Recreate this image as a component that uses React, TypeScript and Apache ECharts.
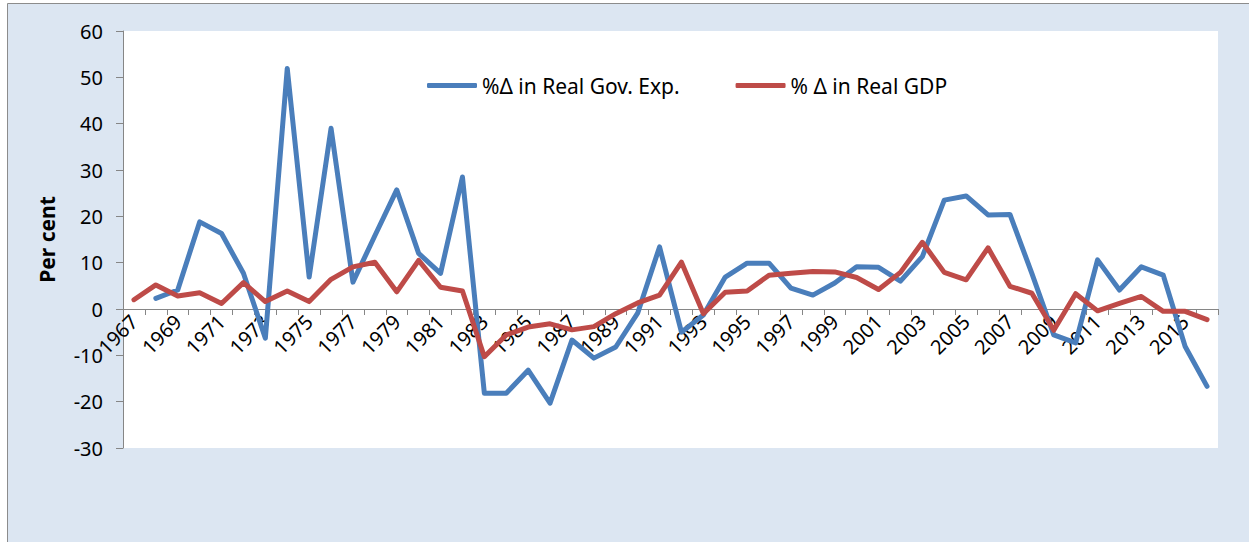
import React, { useEffect, useRef } from "react";
import * as echarts from "echarts";

const years: string[] = [];
for (let y = 1967; y <= 2016; y++) years.push(String(y));

const govExp: (number | null)[] = [
  null, 2.3, 4.1, 18.8, 16.3, 7.7, -6.3, 51.9, 6.9, 39.0,
  5.8, 15.8, 25.7, 12.0, 7.7, 28.5, -18.2, -18.2, -13.2, -20.3,
  -6.7, -10.6, -8.2, -0.9, 13.4, -5.0, -1.3, 6.9, 9.9, 9.9,
  4.5, 3.0, 5.6, 9.1, 9.0, 6.0, 11.3, 23.5, 24.4, 20.3,
  20.4, 7.7, -5.6, -7.3, 10.6, 4.1, 9.1, 7.3, -8.1, -16.7,
];

const gdp: number[] = [
  2.0, 5.2, 2.8, 3.5, 1.2, 5.7, 1.6, 3.9, 1.6, 6.4,
  9.1, 10.1, 3.7, 10.5, 4.7, 3.9, -10.3, -5.6, -3.9, -3.2,
  -4.5, -3.8, -1.0, 1.3, 3.0, 10.1, -1.0, 3.6, 3.9, 7.3,
  7.7, 8.1, 8.0, 6.8, 4.2, 7.9, 14.4, 7.9, 6.3, 13.2,
  4.9, 3.4, -4.6, 3.3, -0.4, 1.2, 2.7, -0.5, -0.5, -2.3,
];

const seriesNames = ["%Δ in Real Gov. Exp.", "% Δ in Real GDP"];
const FONT = "'Noto Sans', sans-serif";

export default function App() {
  const ref = useRef<HTMLDivElement>(null);
  useEffect(() => {
    if (!ref.current) return;
    const chart = echarts.init(ref.current, undefined, { renderer: "svg" });
    chart.setOption({
      animation: false,
      backgroundColor: "#ffffff",
      textStyle: { fontFamily: FONT },
      graphic: [
        {
          type: "rect",
          z: -10,
          silent: true,
          shape: { x: 7.5, y: 3.5, width: 1260, height: 560 },
          style: { fill: "#dce6f2", stroke: "#8c8c8c", lineWidth: 1 },
        },
      ],
      grid: {
        left: 123,
        right: 31,
        top: 31,
        bottom: 94,
        show: true,
        backgroundColor: "#ffffff",
        borderWidth: 0,
        containLabel: false,
      },
      legend: {
        left: 422,
        top: 70,
        itemWidth: 50,
        itemHeight: 5,
        itemGap: 56,
        icon: "roundRect",
        textStyle: { fontFamily: FONT, fontSize: 21, color: "#000" },
        data: seriesNames,
      },
      xAxis: {
        type: "category",
        data: years,
        boundaryGap: true,
        position: "bottom",
        offset: -139,
        z: 1,
        axisLine: { onZero: false, lineStyle: { color: "#868686", width: 1 } },
        axisTick: { show: true, interval: 0, length: 6, lineStyle: { color: "#868686" } },
        axisLabel: {
          interval: 1,
          rotate: 45,
          margin: 9,
          fontFamily: FONT,
          fontSize: 20,
          color: "#000",
        },
        splitLine: { show: false },
      },
      yAxis: {
        type: "value",
        min: -30,
        max: 60,
        interval: 10,
        name: "Per cent",
        nameLocation: "middle",
        nameGap: 66,
        nameRotate: 90,
        nameTextStyle: { fontFamily: FONT, fontSize: 21, fontWeight: "bold", color: "#000" },
        axisLine: { show: true, lineStyle: { color: "#868686", width: 1 } },
        axisTick: { show: true, length: 7, lineStyle: { color: "#868686" } },
        axisLabel: { margin: 20, fontFamily: FONT, fontSize: 20, color: "#000" },
        splitLine: { show: false },
      },
      series: [
        {
          name: seriesNames[0],
          type: "line",
          data: govExp,
          symbol: "none",
          color: "#4a7ebb",
          lineStyle: { width: 5, color: "#4a7ebb", cap: "round", join: "round" },
          z: 3,
        },
        {
          name: seriesNames[1],
          type: "line",
          data: gdp,
          symbol: "none",
          color: "#be4b48",
          lineStyle: { width: 5, color: "#be4b48", cap: "round", join: "round" },
          z: 4,
        },
      ],
    });
    return () => chart.dispose();
  }, []);
  return (
    <div
      ref={ref}
      style={{ position: "fixed", left: 0, top: 0, width: 1249, height: 542 }}
    />
  );
}
